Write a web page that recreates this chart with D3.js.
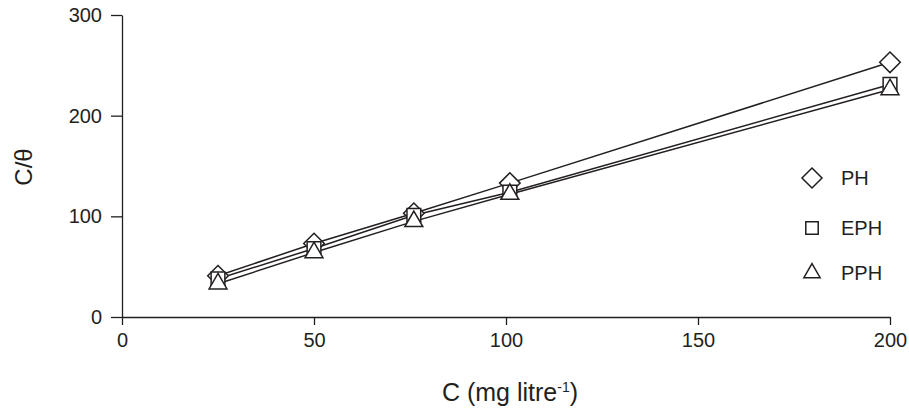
<!DOCTYPE html>
<html>
<head>
<meta charset="utf-8">
<script src="https://cdn.jsdelivr.net/npm/d3@7"></script>
<style>
  body { margin: 0; background: #fff; }
  text { font-family: "Liberation Sans", Arial, sans-serif; fill: #231f20; }
</style>
</head>
<body>
<script>
// chart data
var concentrations = [25, 50, 76, 101, 200];
var seriesNames = ["PH", "EPH", "PPH"];
var phValues = [41, 73, 103, 133, 253];
var ephValues = [38, 68, 101, 124, 231];
var pphValues = [33, 64, 95, 122, 226];
var xTicks = [0, 50, 100, 150, 200];
var yTicks = [0, 100, 200, 300];

var w = 909, h = 409;
var margin = {left: 122, right: 19, top: 15, bottom: 92};
var ink = "#231f20";

var svg = d3.select("body").append("svg")
    .attr("width", w)
    .attr("height", h);

var x = d3.scaleLinear().domain([0, 200]).range([margin.left, w - margin.right]);
var y = d3.scaleLinear().domain([0, 300]).range([h - margin.bottom, margin.top]);

// axes
var xAxis = svg.append("g")
    .attr("transform", "translate(0," + y(0) + ")")
    .call(d3.axisBottom(x).tickValues(xTicks).tickSize(8).tickPadding(8).tickSizeOuter(0));
var yAxis = svg.append("g")
    .attr("transform", "translate(" + x(0) + ",0)")
    .call(d3.axisLeft(y).tickValues(yTicks).tickSize(11).tickPadding(9).tickSizeOuter(0));
[xAxis, yAxis].forEach(function (g) {
    g.selectAll("path, line").attr("stroke", ink).attr("stroke-width", 1.3);
    g.selectAll("text").attr("font-size", "20px").style("fill", ink);
});

// axis titles
svg.append("text")
    .attr("transform", "translate(32," + (y(150) + 1) + ") rotate(-90)")
    .attr("text-anchor", "middle")
    .attr("font-size", "24px")
    .text("C/θ");

var xt = svg.append("text")
    .attr("x", 510)
    .attr("y", 401)
    .attr("text-anchor", "middle")
    .attr("font-size", "25px");
xt.append("tspan").text("C (mg litre");
xt.append("tspan").attr("font-size", "14px").attr("dy", -9).text("-1");
xt.append("tspan").attr("dy", 9).text(")");

// series
var series = [
    {name: seriesNames[0], values: phValues, symbol: d3.symbolDiamond2, size: 270},
    {name: seriesNames[1], values: ephValues, symbol: d3.symbolSquare2, size: 240},
    {name: seriesNames[2], values: pphValues, symbol: d3.symbolTriangle2, size: 230}
];

var line = d3.line()
    .x(function (d) { return x(d[0]); })
    .y(function (d) { return y(d[1]); });

series.forEach(function (s) {
    var pts = concentrations.map(function (c, i) { return [c, s.values[i]]; });
    svg.append("path")
        .datum(pts)
        .attr("d", line)
        .attr("fill", "none")
        .attr("stroke", ink)
        .attr("stroke-width", 1.5);
});

series.forEach(function (s) {
    var pts = concentrations.map(function (c, i) { return [c, s.values[i]]; });
    svg.append("g").selectAll("path")
        .data(pts)
        .enter().append("path")
        .attr("transform", function (d) { return "translate(" + x(d[0]) + "," + y(d[1]) + ")"; })
        .attr("d", d3.symbol().type(s.symbol).size(s.size))
        .attr("fill", "#fff")
        .attr("stroke", ink)
        .attr("stroke-width", 1.5);
});

// legend
var legendY = [178, 228, 273];
var legendSize = [255, 196, 190];
var legend = svg.append("g").attr("transform", "translate(812,0)");
series.forEach(function (s, i) {
    legend.append("path")
        .attr("transform", "translate(0," + legendY[i] + ")")
        .attr("d", d3.symbol().type(s.symbol).size(legendSize[i]))
        .attr("fill", "#fff")
        .attr("stroke", ink)
        .attr("stroke-width", 1.5);
    legend.append("text")
        .attr("x", 29)
        .attr("y", legendY[i] + 7)
        .attr("font-size", "20px")
        .text(s.name);
});
</script>
</body>
</html>
